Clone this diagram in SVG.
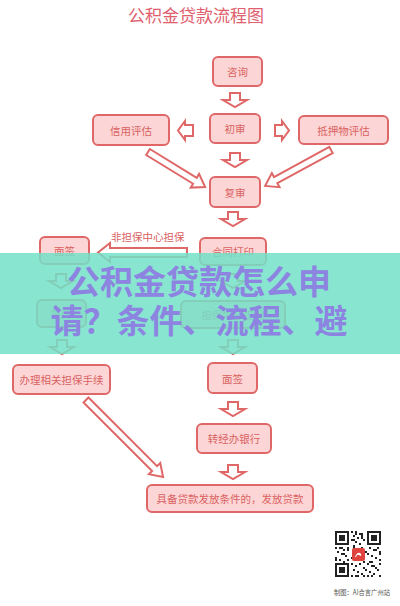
<svg xmlns="http://www.w3.org/2000/svg" width="400" height="606" viewBox="0 0 400 606">
<style>
.node rect{fill:#fcd6d6;stroke:#e06767;stroke-width:2}
.node text{font-family:"Noto Sans CJK SC","Noto Sans",sans-serif;font-size:10.5px;fill:#d96262;text-anchor:middle;dominant-baseline:central}
.arr{fill:#ffffff;stroke:#e06767;stroke-width:2;stroke-linejoin:miter}
.lbl{font-family:"Noto Sans CJK SC","Noto Sans",sans-serif;font-size:10.5px;fill:#d95f5f}
.title{font-family:"Noto Sans CJK SC",sans-serif;font-size:17px;fill:#e0606e;text-anchor:middle}
.banner{font-family:"Noto Sans CJK SC",sans-serif;font-size:33px;font-weight:bold;fill:#8c84e0;text-anchor:middle}
.qr{fill:#222}
</style>
<defs>
<path id="down" d="M-5,0 H5 V7 H12 L0,14 L-12,7 H-5 Z"/>
</defs>
<rect width="400" height="606" fill="#ffffff"/>
<text class="title" x="196" y="22">公积金贷款流程图</text>

<g id="connectors">
<use href="#down" class="arr" x="235" y="93"/>
<use href="#down" class="arr" x="235" y="153"/>
<use href="#down" class="arr" x="233" y="212"/>
<use href="#down" class="arr" x="233" y="274"/>
<use href="#down" class="arr" x="61" y="274"/>
<use href="#down" class="arr" x="62" y="340"/>
<use href="#down" class="arr" x="233" y="340"/>
<use href="#down" class="arr" x="233" y="402"/>
<use href="#down" class="arr" x="233" y="465"/>
<path class="arr" d="M193,125 H185 V121 L178,130.5 L185,140 V136 H193 Z"/>
<path class="arr" d="M275,125 H282 V121 L289,130.5 L282,140 V136 H275 Z"/>
<path class="arr" d="M187,248 H110 V243 L98,252.5 L110,262 V257 H187 Z"/>
<text class="lbl" x="111" y="241">非担保中心担保</text>
<path class="arr" transform="translate(148,152) rotate(31.5)" d="M0,-3.5 H55 V-8 L67,0 L55,8 V3.5 H0 Z"/>
<path class="arr" transform="translate(331,150) rotate(151.4)" d="M0,-3.5 H63 V-8 L75,0 L63,8 V3.5 H0 Z"/>
<path class="arr" transform="translate(86,400) rotate(45)" d="M0,-3.5 H97 V-8 L109,0 L97,8 V3.5 H0 Z"/>
</g>

<g id="n-zixun" class="node"><rect x="213" y="57" width="49" height="29" rx="5"/><text x="237.5" y="71.5">咨询</text></g>
<g id="n-chushen" class="node"><rect x="210" y="114" width="50" height="29" rx="5"/><text x="235" y="128.5">初审</text></g>
<g id="n-xinyong" class="node"><rect x="93" y="115" width="76" height="30" rx="5"/><text x="131" y="130">信用评估</text></g>
<g id="n-diya" class="node"><rect x="299" y="116" width="89" height="28" rx="5"/><text x="343.5" y="130">抵押物评估</text></g>
<g id="n-fushen" class="node"><rect x="210" y="177" width="50" height="30" rx="5"/><text x="235" y="192">复审</text></g>
<g id="n-hetong" class="node"><rect x="200" y="238" width="66" height="27" rx="5"/><text x="233" y="251.5">合同打印</text></g>
<g id="n-mianqian1" class="node"><rect x="40" y="237" width="49" height="27" rx="5"/><text x="64.5" y="250.5">面签</text></g>
<g id="n-qianyue" class="node"><rect x="37" y="300" width="49" height="27" rx="5"/><text x="61.5" y="313.5">签约</text></g>
<g id="n-danbao" class="node"><rect x="181" y="301" width="104" height="27" rx="5"/><text x="233" y="314.5">担保中心担保</text></g>
<g id="n-banli" class="node"><rect x="13" y="365" width="97" height="29" rx="5"/><text x="61.5" y="379.5">办理相关担保手续</text></g>
<g id="n-mianqian2" class="node"><rect x="208" y="363" width="49" height="30" rx="5"/><text x="232.5" y="378">面签</text></g>
<g id="n-zhuanjing" class="node"><rect x="197" y="424" width="74" height="29" rx="5"/><text x="234" y="438.5">转经办银行</text></g>
<g id="n-fafang" class="node"><rect x="147" y="485" width="166" height="27" rx="5"/><text x="230" y="498.5">具备贷款发放条件的，发放贷款</text></g>

<g id="qrcode">
<rect x="335" y="531" width="14" height="14" class="qr"/><rect x="337" y="533" width="10" height="10" fill="#fff"/><rect x="339" y="535" width="6" height="6" class="qr"/>
<rect x="367" y="531" width="14" height="14" class="qr"/><rect x="369" y="533" width="10" height="10" fill="#fff"/><rect x="371" y="535" width="6" height="6" class="qr"/>
<rect x="335" y="563" width="14" height="14" class="qr"/><rect x="337" y="565" width="10" height="10" fill="#fff"/><rect x="339" y="567" width="6" height="6" class="qr"/>
<path class="qr" d="M351,531h2v2h-2zM355,531h2v4h-2zM359,533h4v2h-4zM353,535h2v2h-2zM357,537h2v2h-2zM361,535h2v4h-2zM351,539h4v2h-4zM363,539h2v2h-2zM355,541h2v2h-2zM359,543h2v2h-2zM353,545h2v2h-2zM335,547h2v2h-2zM339,547h4v2h-4zM343,549h2v2h-2zM347,547h2v4h-2zM337,551h2v2h-2zM341,553h4v2h-4zM345,555h2v2h-2zM335,557h2v4h-2zM339,559h2v2h-2zM347,559h2v2h-2zM343,561h2v2h-2zM369,547h2v2h-2zM373,549h4v2h-4zM377,547h2v2h-2zM379,551h2v4h-2zM367,553h2v2h-2zM371,555h2v2h-2zM375,557h2v2h-2zM379,559h2v2h-2zM369,561h4v2h-4zM353,547h2v2h-2zM361,547h2v2h-2zM365,551h2v2h-2zM351,557h2v2h-2zM363,561h2v2h-2zM351,563h2v2h-2zM355,565h2v2h-2zM359,563h2v2h-2zM363,567h2v2h-2zM367,563h2v2h-2zM371,565h4v2h-4zM375,567h2v2h-2zM379,563h2v2h-2zM353,569h2v2h-2zM357,571h2v2h-2zM361,573h2v2h-2zM365,569h2v2h-2zM369,571h2v2h-2zM373,573h2v2h-2zM377,569h2v2h-2zM379,575h2v2h-2zM351,575h2v2h-2zM355,575h2v2h-2zM359,577h-2v-2h2zM367,575h2v2h-2zM371,575h2v2h-2zM363,575h2v2h-2z"/>
<rect x="352" y="548" width="13" height="13" rx="2" fill="#e0443e"/>
<path d="M355,557 q2,-5 5,-4 q2,1 1,3 l-2,-1 q-2,-1 -3,2 z" fill="#fff"/>
<text x="334" y="595" font-family="'Noto Sans CJK SC',sans-serif" font-size="7" fill="#555" textLength="56" lengthAdjust="spacingAndGlyphs">制图：AI合言广州站</text>
</g>

<g id="banner">
<rect x="0" y="253" width="400" height="101" fill="#72e0c8" fill-opacity="0.85"/>
<text class="banner" x="199" y="294">公积金贷款怎么申</text>
<text class="banner" x="199" y="333">请？条件、流程、避</text>
</g>
</svg>
